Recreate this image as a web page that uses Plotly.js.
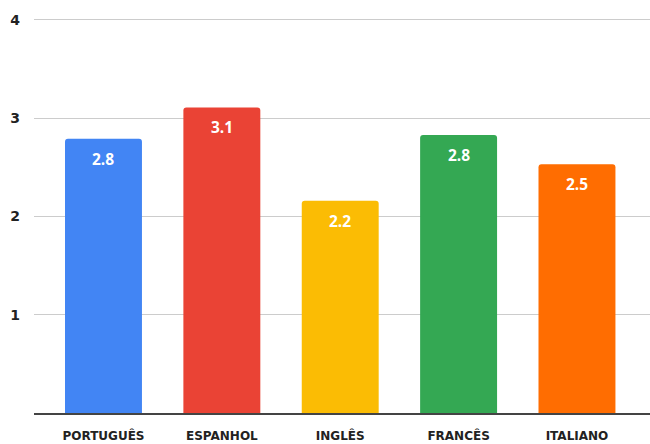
<!DOCTYPE html>
<html><head><meta charset="utf-8">
<script src="https://cdn.plot.ly/plotly-3.0.1.min.js"></script>
<style>html,body{margin:0;padding:0;background:#fff}#chart{width:650px;height:444px}</style>
</head><body><div id="chart"></div>
<script>
const categories = ["PORTUGUÊS", "ESPANHOL", "INGLÊS", "FRANCÊS", "ITALIANO"];
const values = [2.79, 3.11, 2.16, 2.83, 2.53];
const barColors = ["#4285F4", "#EA4335", "#FBBC04", "#34A853", "#FF6D01"];
const yTicks = [0, 1, 2, 3, 4];
const yTickLabels = ["", "1", "2", "3", "4"];

const FONT = "'Open Sans', 'DejaVu Sans', sans-serif";
const WIDE = "'DejaVu Sans', 'Open Sans', sans-serif";

const trace = {
  type: "bar",
  x: categories,
  y: values,
  marker: {color: barColors, line: {width: 0}},
  hoverinfo: "none"
};

const annotations = categories.map((c, i) => ({
  x: c, y: values[i], xref: "x", yref: "y",
  text: values[i].toFixed(1),
  showarrow: false, yanchor: "top", yshift: -7,
  font: {family: FONT, size: 15.5, color: "#ffffff", weight: 700}
}));

const layout = {
  width: 650, height: 444,
  margin: {l: 34, r: 0, t: 15, b: 31, pad: 0},
  paper_bgcolor: "#ffffff", plot_bgcolor: "#ffffff",
  showlegend: false,
  bargap: 0.35,
  barcornerradius: 3,
  font: {family: FONT, color: "#222222"},
  xaxis: {
    type: "category",
    range: [-0.587, 4.617],
    showgrid: false, zeroline: false,
    showline: true, linecolor: "#444444", linewidth: 1.5,
    ticks: "",
    tickfont: {family: WIDE, size: 12, color: "#222222", weight: 700},
    ticklabelstandoff: 11
  },
  yaxis: {
    range: [0, 4.05],
    tickvals: yTicks, ticktext: yTickLabels,
    showgrid: true, gridcolor: "#cccccc", gridwidth: 1,
    zeroline: false, showline: false, ticks: "",
    tickfont: {family: WIDE, size: 14, color: "#222222", weight: 700},
    ticklabelstandoff: 13
  },
  annotations: annotations
};

Plotly.newPlot("chart", [trace], layout, {displayModeBar: false, staticPlot: true});
</script></body></html>
